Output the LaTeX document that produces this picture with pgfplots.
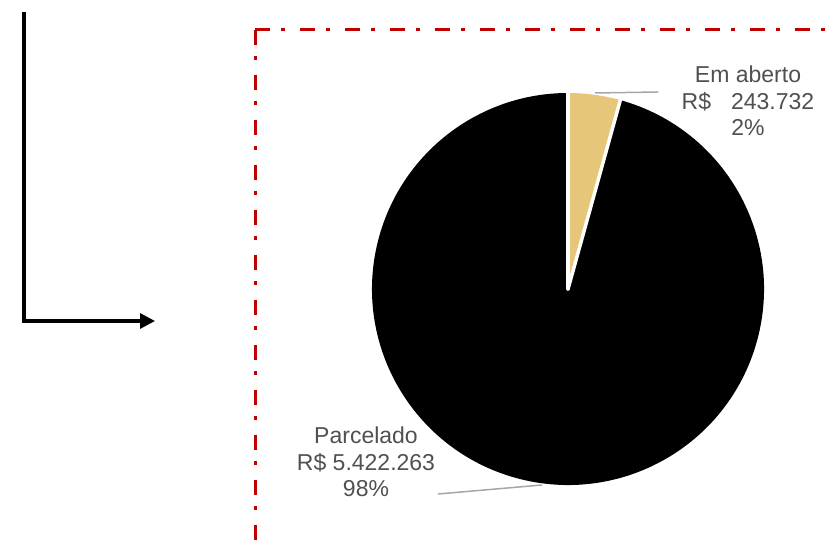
\documentclass[border=0pt]{standalone}
\usepackage{pgfplots}
\pgfplotsset{compat=1.18}
\usepackage{pgfplotstable}
\usepackage{fontspec}
\setmainfont{Liberation Sans}
\usetikzlibrary{arrows.meta}
\definecolor{gold}{RGB}{230,198,121}
\definecolor{lbl}{RGB}{80,80,80}
\definecolor{lead}{RGB}{166,166,166}
\definecolor{framered}{RGB}{192,0,0}
\pgfplotstableread{
label value
EmAberto 243.732
Parcelado 5422.263
}\piedata
\begin{document}%
\begin{tikzpicture}
\pgfplotstablegetelem{0}{value}\of\piedata \global\let\va\pgfplotsretval
\pgfplotstablegetelem{1}{value}\of\piedata \global\let\vb\pgfplotsretval
\pgfmathsetmacro\fracA{\va/(\va+\vb)}
\pgfmathsetmacro\angA{90-360*\fracA}
\useasboundingbox (0,0) rectangle (827bp,546bp);
\clip (0,0) rectangle (827bp,546bp);
\begin{axis}[at={(0,0)},anchor=south west, scale only axis, width=827bp, height=546bp,
  xmin=0,xmax=827,ymin=0,ymax=546, hide axis, clip=false]
\fill[black] (axis cs:568,257) -- ++(\angA:196bp) arc[start angle=\angA, end angle=-270, radius=196bp] -- cycle;
\fill[gold] (axis cs:568,257) -- ++(90:196bp) arc[start angle=90,end angle=\angA,radius=196bp] -- cycle;
\draw[white, line width=3.5bp, line cap=round] (axis cs:568,257) -- ++(90:198bp);
\draw[white, line width=3.5bp, line cap=round] (axis cs:568,257) -- ++(\angA:198bp);
\draw[lead, line width=1.5bp] (axis cs:595,453) -- (axis cs:658,454);
\draw[lead, line width=1.5bp] (axis cs:438,52) -- (axis cs:542,61);
\node[lbl, align=center, font=\fontsize{23bp}{26.5bp}\selectfont] at (axis cs:748,445)
  {Em aberto\\R\$\hspace{20bp}243.732\\2\%};
\node[lbl, align=center, font=\fontsize{23bp}{26.5bp}\selectfont] at (axis cs:366,84)
  {Parcelado\\R\$ 5.422.263\\98\%};
\end{axis}
\draw[line width=3.2bp, -{Triangle[length=15bp,width=15bp]}] (24bp,534bp) -- (24bp,225bp) -- (155bp,225bp);
\draw[framered, line width=3bp, dash pattern=on 15bp off 11bp on 4bp off 15bp] (255bp,516bp) -- (827bp,516bp);
\draw[framered, line width=3bp, dash pattern=on 15bp off 11bp on 4bp off 15bp] (255bp,516bp) -- (255bp,0bp);
\end{tikzpicture}%
\end{document}
